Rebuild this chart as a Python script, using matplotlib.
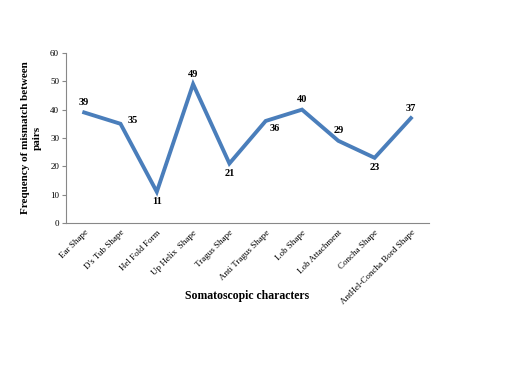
import matplotlib
matplotlib.use('Agg')
from matplotlib import pyplot as plt
from matplotlib.transforms import ScaledTranslation

categories = ['Ear Shape', "D's Tub Shape", 'Hel Fold Form', 'Up Helix  Shape', 'Tragus Shape',
              'Anti Tragus Shape', 'Lob Shape', 'Lob Attachment', 'Concha Shape',
              'AntHel-Concha Bord Shape']
values = [39, 35, 11, 49, 21, 36, 40, 29, 23, 37]
# где подпись: над точкой, справа, под точкой
label_pos = ['up', 'right', 'down', 'up', 'down', 'rdown', 'up', 'up', 'down', 'up']

plt.rcParams['font.family'] = ['Liberation Serif', 'DejaVu Serif']

fig = plt.figure(figsize=(5.12, 3.65), dpi=100)
ax = fig.add_axes([0.129, 0.389, 0.709, 0.466])

x = list(range(len(categories)))
ax.plot(x, values, color='#4a7ebb', linewidth=2.8, solid_joinstyle='miter')

offsets = {'up': (0, 4, 'center', 'bottom'), 'right': (5, -1, 'left', 'bottom'),
           'down': (0, -4, 'center', 'top'), 'rdown': (3, -2, 'left', 'top')}
for xi, v, p in zip(x, values, label_pos):
    dx, dy, ha, va = offsets[p]
    ax.annotate(str(v), (xi, v), xytext=(dx, dy), textcoords='offset points',
                ha=ha, va=va, fontsize=7.5, fontweight='bold')

ax.set_xlim(-0.5, len(categories) - 0.5)
ax.set_ylim(0, 60)
ax.set_yticks(range(0, 61, 10))
ax.set_xticks(x)
ax.set_xticklabels(categories, rotation=45, ha='right', rotation_mode='anchor', fontsize=6.5)
# сдвиг подписей чуть вправо
for lbl in ax.get_xticklabels():
    lbl.set_transform(lbl.get_transform() + ScaledTranslation(5 / 72, 0, fig.dpi_scale_trans))
ax.tick_params(axis='y', labelsize=6.5, length=3, color='#888888', pad=2)
ax.tick_params(axis='x', length=0, pad=4)

for s in ['top', 'right']:
    ax.spines[s].set_visible(False)
for s in ['left', 'bottom']:
    ax.spines[s].set_color('#888888')
    ax.spines[s].set_linewidth(0.8)

ax.set_ylabel('Frequency of mismatch between\npairs', fontsize=8, fontweight='bold',
              linespacing=1.4)
ax.yaxis.set_label_coords(-0.095, 0.5)
ax.yaxis.label.set_va('center')
ax.set_xlabel('Somatoscopic characters', fontsize=8.5, fontweight='bold')
ax.xaxis.set_label_coords(0.5, -0.43)
ax.xaxis.label.set_va('center')

fig.savefig('out.png', dpi=100)
